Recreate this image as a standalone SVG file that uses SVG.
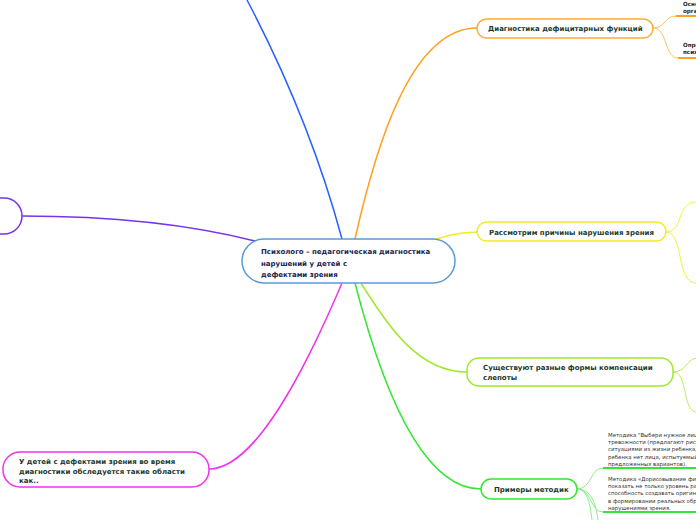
<svg xmlns="http://www.w3.org/2000/svg" width="696" height="520" viewBox="0 0 696 520">
<style>
.node{fill:#ffffff;stroke-width:1.5}
.t{font-family:"DejaVu Sans","Verdana",sans-serif;font-weight:bold;font-size:7px;fill:#1b3a2e}
.tc{font-family:"DejaVu Sans","Verdana",sans-serif;font-weight:bold;font-size:7px;fill:#1a2550}
.ts{font-family:"DejaVu Sans","Verdana",sans-serif;font-weight:bold;font-size:5.6px;fill:#222}
.tn{font-family:"DejaVu Sans","Verdana",sans-serif;font-size:5.4px;fill:#333}
.c{fill:none;stroke-width:1.5}
.u{fill:none;stroke-width:2}
</style>
<rect width="696" height="520" fill="#ffffff"/>
<g id="connectors">
<path class="c" stroke="#2962ff" d="M342,239 Q310,120 247,0"/>
<path class="c" stroke="#ffa020" d="M355,239 C375,150 410,28 477,28"/>
<path class="c" stroke="#eeee22" d="M420,244 C440,238 455,232 477,232"/>
<path class="c" stroke="#a0e830" d="M361,283 C390,330 420,372 467,372"/>
<path class="c" stroke="#33e633" d="M355,283 C380,380 420,489 481,489"/>
<path class="c" stroke="#ee33ee" d="M342,283 C305,370 255,469 209,469"/>
<path class="c" stroke="#7733ee" d="M255,241 C180,222 100,216 22,216"/>
<path fill="none" stroke="#ffc060" stroke-width="1" d="M653,28 C666,28 664,16 676,16"/>
<path fill="none" stroke="#ffc060" stroke-width="1" d="M653,28 C668,28 664,58 678,58"/>
<path fill="none" stroke="#f0f040" stroke-width="1" d="M666,232 C684,232 676,202 696,202"/>
<path fill="none" stroke="#f0f040" stroke-width="1" d="M666,232 C684,232 676,283 696,283"/>
<path fill="none" stroke="#b8ee60" stroke-width="1" d="M673,372 C686,372 686,360 696,358"/>
<path fill="none" stroke="#b8ee60" stroke-width="1" d="M673,372 C688,372 682,410 696,412"/>
<path fill="none" stroke="#88ee88" stroke-width="1" d="M577,489 C592,489 590,468 603,468"/>
<path fill="none" stroke="#88ee88" stroke-width="1" d="M577,489 C592,489 590,512 603,512"/>
<path fill="none" stroke="#88ee88" stroke-width="1" d="M577,489 C588,489 590,505 592,520"/>
<path fill="none" stroke="#88ee88" stroke-width="1" d="M577,489 C592,489 596,505 598,520"/>
</g>
<g id="central">
<rect class="node" x="242" y="239" width="213" height="44" rx="22" stroke="#5b9bd5"/>
<text class="tc" x="261" y="254">Психолого – педагогическая диагностика</text>
<text class="tc" x="261" y="266">нарушений у детей с</text>
<text class="tc" x="261" y="277">дефектами зрения</text>
</g>
<g id="n-diag">
<rect class="node" x="477" y="19" width="176" height="19" rx="9.5" stroke="#ffaa33"/>
<text class="t" x="488" y="31">Диагностика дефицитарных функций</text>
</g>
<g id="n-diag-1">
<text class="ts" x="683" y="6">Основные</text>
<text class="ts" x="683" y="12.5">органов</text>
<line class="u" stroke="#ffa020" x1="676" y1="16" x2="696" y2="16"/>
</g>
<g id="n-diag-2">
<text class="ts" x="683" y="47">Определение</text>
<text class="ts" x="683" y="53.5">психических</text>
<line class="u" stroke="#ffa020" x1="678" y1="58" x2="696" y2="58"/>
</g>
<g id="n-causes">
<rect class="node" x="477" y="222" width="189" height="19" rx="9.5" stroke="#eeee22"/>
<text class="t" x="489" y="234.5">Рассмотрим причины нарушения зрения</text>
</g>
<g id="n-comp">
<rect class="node" x="467" y="358" width="206" height="28" rx="12" stroke="#a0e830"/>
<text class="t" x="483" y="370">Существуют разные формы компенсации</text>
<text class="t" x="483" y="380">слепоты</text>
</g>
<g id="n-methods">
<rect class="node" x="481" y="479" width="96" height="20" rx="10" stroke="#33e633"/>
<text class="t" x="494" y="491.5">Примеры методик</text>
</g>
<g id="n-method-1">
<text class="tn" x="608" y="437">Методика "Выбери нужное лицо"</text>
<text class="tn" x="608" y="444.2">тревожности (предлагают рисунки</text>
<text class="tn" x="608" y="451.4">ситуациями из жизни ребенка, на</text>
<text class="tn" x="608" y="458.6">ребенка нет лица, испытуемый</text>
<text class="tn" x="608" y="465.8">предложенных вариантов).</text>
<line class="u" stroke="#33e633" x1="603" y1="468" x2="696" y2="468"/>
</g>
<g id="n-method-2">
<text class="tn" x="608" y="481">Методика «Дорисовывание фигур»</text>
<text class="tn" x="608" y="488.2">показать не только уровень развития</text>
<text class="tn" x="608" y="495.4">способность создавать оригинальные</text>
<text class="tn" x="608" y="502.6">в формировании реальных образов</text>
<text class="tn" x="608" y="509.8">нарушениями зрения.</text>
<line class="u" stroke="#33e633" x1="603" y1="512" x2="696" y2="512"/>
</g>
<g id="n-areas">
<rect class="node" x="3" y="452" width="206" height="35" rx="17" stroke="#ee33ee"/>
<text class="t" x="19" y="464">У детей с дефектами зрения во время</text>
<text class="t" x="19" y="473.5">диагностики обследуется такие области</text>
<text class="t" x="19" y="483">как..</text>
</g>
<g id="n-left">
<rect class="node" x="-40" y="198" width="62" height="36" rx="18" stroke="#7733ee"/>
</g>
</svg>
